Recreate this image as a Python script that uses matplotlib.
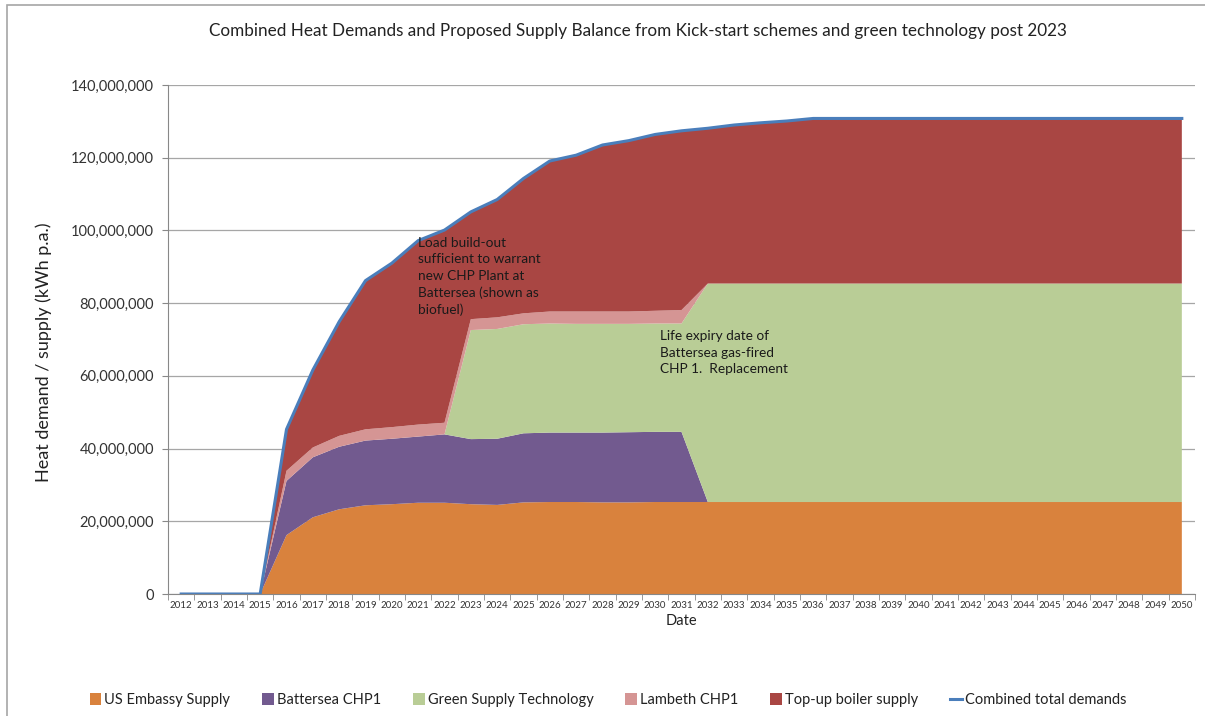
import numpy as np
import matplotlib
matplotlib.use('Agg')
import matplotlib.pyplot as plt
from matplotlib.patches import Patch, Rectangle
from matplotlib.lines import Line2D
from matplotlib.ticker import FuncFormatter, FixedLocator

plt.rcParams['font.family'] = ['Lato', 'DejaVu Sans']

# ---------------------------------------------------------------
# data (kWh p.a., in millions)
years = list(range(2012, 2051))

us_embassy = [0, 0, 0, 0, 16.2, 21.1, 23.3, 24.4, 24.7, 25.1, 25.1,
              24.7, 24.5, 25.2, 25.3, 25.3, 25.2, 25.2, 25.3, 25.3,
              25.3, 25.3, 25.3, 25.3, 25.3, 25.3, 25.3, 25.3, 25.3, 25.3,
              25.3, 25.3, 25.3, 25.3, 25.3, 25.3, 25.3, 25.3, 25.3]

battersea_chp1 = [0, 0, 0, 0, 14.9, 16.5, 17.2, 17.8, 18.0, 18.2, 18.8,
                  17.9, 18.2, 19.0, 19.1, 19.1, 19.2, 19.3, 19.3, 19.3,
                  0, 0, 0, 0, 0, 0, 0, 0, 0, 0,
                  0, 0, 0, 0, 0, 0, 0, 0, 0]

green_supply = [0, 0, 0, 0, 0, 0, 0, 0, 0, 0, 0,
                30.0, 30.2, 30.0, 30.0, 29.9, 29.9, 29.8, 29.8, 29.8,
                60.1, 60.1, 60.1, 60.1, 60.1, 60.1, 60.1, 60.1, 60.1, 60.1,
                60.1, 60.1, 60.1, 60.1, 60.1, 60.1, 60.1, 60.1, 60.1]

lambeth_chp1 = [0, 0, 0, 0, 2.8, 2.7, 3.0, 3.1, 3.2, 3.3, 3.2,
                3.0, 3.2, 3.0, 3.3, 3.4, 3.4, 3.4, 3.5, 3.7,
                0, 0, 0, 0, 0, 0, 0, 0, 0, 0,
                0, 0, 0, 0, 0, 0, 0, 0, 0]

total_demand = [0, 0, 0, 0, 45.3, 61.6, 74.9, 86.2, 91.0, 97.2, 100.1,
                105.1, 108.5, 114.3, 119.1, 120.7, 123.5, 124.7, 126.4, 127.4,
                128.1, 129.0, 129.6, 130.1, 130.8, 130.8, 130.8, 130.8, 130.8, 130.8,
                130.8, 130.8, 130.8, 130.8, 130.8, 130.8, 130.8, 130.8, 130.8]

labels = ['US Embassy Supply', 'Battersea CHP1', 'Green Supply Technology',
          'Lambeth CHP1', 'Top-up boiler supply']
colours = ['#D9823D', '#725A8F', '#B9CD96', '#D59594', '#A94643']

# ---------------------------------------------------------------
us = np.array(us_embassy) * 1e6
bat = np.array(battersea_chp1) * 1e6
grn = np.array(green_supply) * 1e6
lam = np.array(lambeth_chp1) * 1e6
tot = np.array(total_demand) * 1e6
# boiler tops up whatever the other sources don't cover
topup = np.clip(tot - us - bat - grn - lam, 0, None)

x = np.arange(len(years))

fig = plt.figure(figsize=(12.05, 7.16), dpi=100)
fig.patch.set_facecolor('white')
# outer chart border
fig.patches.append(Rectangle((7 / 1205, -0.1), 1.2, 1 - 5 / 716 + 0.1,
                             transform=fig.transFigure, fill=False,
                             edgecolor='#A6A6A6', linewidth=1.2))

ax = fig.add_axes([168 / 1205, 1 - 594 / 716, 1027 / 1205, 509 / 716])

ax.stackplot(x, us, bat, grn, lam, topup, colors=colours, linewidth=0)
ax.plot(x, tot, color='#4A7EBB', linewidth=2.2, solid_joinstyle='round')

ax.set_xlim(-0.5, len(years) - 0.5)
ax.set_ylim(0, 140e6)
ax.set_yticks(np.arange(0, 140e6 + 1, 20e6))
ax.yaxis.set_major_formatter(FuncFormatter(lambda v, p: f'{int(v):,}'))
ax.grid(axis='y', color='#A6A6A6', linewidth=0.9)
ax.set_axisbelow(True)

ax.set_xticks(x)
ax.set_xticklabels([str(y) for y in years], fontsize=7, color='#333333')
ax.xaxis.set_minor_locator(FixedLocator(np.arange(-0.5, len(years), 1)))
ax.tick_params(axis='x', which='major', length=0, pad=5)
ax.tick_params(axis='x', which='minor', length=4, color='#888888')
ax.tick_params(axis='y', length=4, color='#888888', labelsize=10.5,
               labelcolor='#333333', pad=6)

for s in ['top', 'right']:
    ax.spines[s].set_visible(False)
for s in ['left', 'bottom']:
    ax.spines[s].set_color('#888888')

ax.set_xlabel('Date', fontsize=10.5, color='#222222', labelpad=3)

fig.text(638 / 1205, 1 - 31 / 716,
         'Combined Heat Demands and Proposed Supply Balance from Kick-start schemes and green technology post 2023',
         ha='center', va='center', fontsize=12.3, color='#222222')
fig.text(44 / 1205, 1 - 352 / 716, 'Heat demand / supply (kWh p.a.)',
         rotation=90, ha='center', va='center', fontsize=13, color='#222222')

ax.text(9.0, 98.3e6, 'Load build-out\nsufficient to warrant\nnew CHP Plant at\nBattersea (shown as\nbiofuel)',
        ha='left', va='top', fontsize=9.8, color='#1a1a1a', linespacing=1.45)
ax.text(18.2, 72.5e6, 'Life expiry date of\nBattersea gas-fired\nCHP 1.  Replacement',
        ha='left', va='top', fontsize=9.8, color='#1a1a1a', linespacing=1.45)

handles = [Patch(facecolor=c, edgecolor='none') for c in colours]
handles.append(Line2D([0], [0], color='#4A7EBB', linewidth=2.2))
fig.legend(handles, labels + ['Combined total demands'], loc='center',
           bbox_to_anchor=(608 / 1205, 1 - 700 / 716), ncol=6, frameon=False,
           fontsize=10.5, handlelength=0.8, handleheight=0.8, handletextpad=0.2,
           columnspacing=2.2, labelcolor='#222222')

fig.savefig('out.png', dpi=100)
